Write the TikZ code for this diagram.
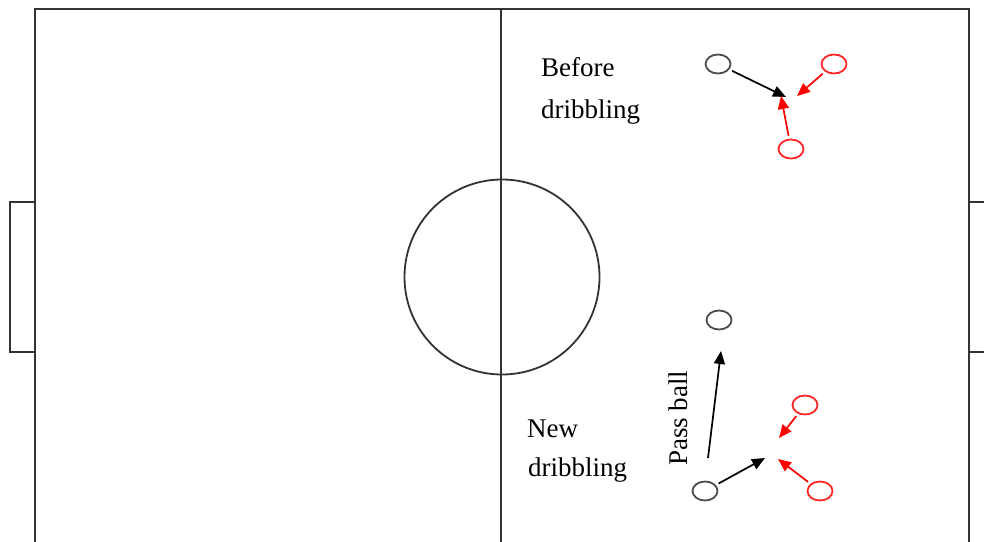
\documentclass[tikz,border=0pt]{standalone}
\usepackage{fontspec}
\setmainfont{Liberation Serif}
\usetikzlibrary{arrows.meta,shapes.geometric}
\begin{document}
\begin{tikzpicture}[x=1pt,y=-1pt,
  field/.style={draw=black!80, line width=1.8pt},
  player/.style={ellipse, draw=black!70, line width=1.8pt, minimum width=25pt, minimum height=19pt, inner sep=0pt},
  opponent/.style={ellipse, draw=red!85, line width=1.8pt, minimum width=25pt, minimum height=19pt, inner sep=0pt},
  move/.style={draw=black, line width=1.7pt, shorten <=3pt, -{Triangle[length=13pt,width=11pt]}},
  press/.style={draw=red, line width=1.7pt, shorten <=3pt, -{Triangle[length=13pt,width=11pt]}},
  label/.style={font=\fontsize{27}{32}\selectfont, inner sep=0pt}]
\useasboundingbox (0,0) rectangle (984,541);
\clip (0,0) rectangle (984,541);
% pitch
\draw[field] (35,545) -- (35,9) -- (969,9) -- (969,545);
\draw[field] (501,9) -- (501,545);
\draw[field] (35,202) -- (10,202) -- (10,352) -- (35,352);
\draw[field] (969,202) -- (990,202);
\draw[field] (969,352) -- (990,352);
\node[draw=black!80, line width=1.8pt, circle, minimum size=195pt, inner sep=0pt] (cc) at (502,277) {};
% before dribbling
\node[label, anchor=base west] (t1) at (541,76) {Before};
\node[label, anchor=base west] (t2) at (541,118) {dribbling};
\node[player] (a1) at (718,64) {};
\node[opponent] (r1) at (834,64) {};
\node[opponent] (r2) at (791,149) {};
\coordinate (b1) at (786,97);
\coordinate (b2) at (797,96);
\coordinate (b3) at (781,96);
\draw[move] (a1) -- (b1);
\draw[press] (r1) -- (b2);
\draw[press] (r2) -- (b3);
% new dribbling
\node[label, anchor=base west] (t3) at (527,437) {New};
\node[label, anchor=base west] (t4) at (528,476) {dribbling};
\node[label, rotate=90, anchor=base west] (t5) at (687,466) {Pass ball};
\node[player] (p1) at (719,320) {};
\node[player] (p2) at (705,491) {};
\node[opponent] (r3) at (805,405) {};
\node[opponent] (r4) at (820,491) {};
\coordinate (p0) at (708,458);
\coordinate (c1) at (721,351);
\coordinate (c2) at (765,458);
\coordinate (c3) at (779,438);
\coordinate (c4) at (778,459);
\draw[move, shorten <=0pt] (p0) -- (c1);
\draw[move] (p2) -- (c2);
\draw[press] (r3) -- (c3);
\draw[press] (r4) -- (c4);
\end{tikzpicture}
\end{document}
